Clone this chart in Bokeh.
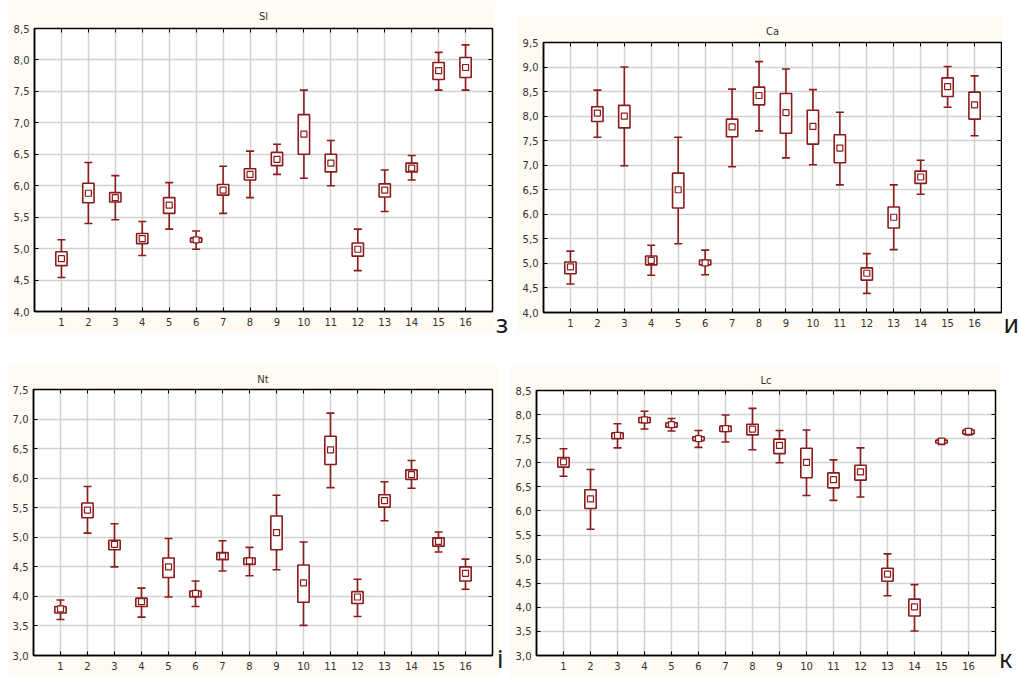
from bokeh.plotting import figure
from bokeh.models import (Range1d, FixedTicker, LinearAxis, Spacer, ColumnDataSource,
                          CustomJSTickFormatter, Div)
from bokeh.layouts import row, column
from bokeh.embed import file_html
from bokeh.resources import INLINE

# ---------------- data ----------------
groups = [1, 2, 3, 4, 5, 6, 7, 8, 9, 10, 11, 12, 13, 14, 15, 16]

sl_mean = [4.84, 5.88, 5.81, 5.16, 5.69, 5.14, 5.93, 6.18, 6.42, 6.82, 6.36, 4.99, 5.93, 6.28, 7.83, 7.88]
sl_box_lo = [4.73, 5.73, 5.74, 5.08, 5.56, 5.10, 5.85, 6.09, 6.32, 6.50, 6.22, 4.88, 5.82, 6.22, 7.69, 7.72]
sl_box_hi = [4.95, 6.04, 5.89, 5.24, 5.81, 5.17, 6.02, 6.27, 6.53, 7.13, 6.50, 5.09, 6.03, 6.36, 7.96, 8.04]
sl_wh_lo = [4.54, 5.40, 5.46, 4.89, 5.31, 4.99, 5.56, 5.81, 6.18, 6.12, 6.00, 4.65, 5.59, 6.09, 7.52, 7.52]
sl_wh_hi = [5.14, 6.37, 6.16, 5.43, 6.05, 5.28, 6.31, 6.55, 6.66, 7.52, 6.72, 5.31, 6.25, 6.48, 8.12, 8.24]

ca_mean = [4.93, 8.06, 8.00, 5.06, 6.50, 5.01, 7.78, 8.42, 8.07, 7.79, 7.35, 4.80, 5.94, 6.76, 8.60, 8.23]
ca_box_lo = [4.79, 7.89, 7.76, 4.97, 6.13, 4.97, 7.58, 8.23, 7.65, 7.43, 7.05, 4.66, 5.72, 6.63, 8.40, 7.94]
ca_box_hi = [5.03, 8.19, 8.22, 5.15, 6.84, 5.07, 7.94, 8.59, 8.46, 8.12, 7.62, 4.91, 6.15, 6.88, 8.78, 8.49]
ca_wh_lo = [4.58, 7.57, 6.99, 4.76, 5.40, 4.77, 6.97, 7.70, 7.15, 7.01, 6.60, 4.39, 5.28, 6.41, 8.18, 7.60]
ca_wh_hi = [5.25, 8.53, 9.00, 5.37, 7.57, 5.27, 8.55, 9.11, 8.96, 8.54, 8.08, 5.20, 6.60, 7.10, 9.01, 8.82]

nt_mean = [3.79, 5.46, 4.88, 3.91, 4.50, 4.05, 4.68, 4.60, 5.08, 4.23, 6.48, 3.99, 5.62, 6.06, 4.93, 4.39]
nt_box_lo = [3.72, 5.33, 4.79, 3.83, 4.32, 3.99, 4.62, 4.54, 4.79, 3.90, 6.23, 3.88, 5.51, 5.98, 4.85, 4.26]
nt_box_hi = [3.83, 5.58, 4.95, 3.97, 4.65, 4.09, 4.74, 4.65, 5.36, 4.53, 6.71, 4.08, 5.72, 6.14, 4.99, 4.50]
nt_wh_lo = [3.61, 5.07, 4.50, 3.65, 3.99, 3.83, 4.43, 4.35, 4.45, 3.51, 5.84, 3.66, 5.28, 5.83, 4.75, 4.12]
nt_wh_hi = [3.94, 5.86, 5.23, 4.14, 4.98, 4.26, 4.94, 4.83, 5.71, 4.92, 7.10, 4.29, 5.94, 6.30, 5.09, 4.63]

lc_mean = [7.02, 6.25, 7.57, 7.89, 7.79, 7.50, 7.71, 7.70, 7.36, 7.01, 6.65, 6.81, 4.69, 4.01, 7.45, 7.65]
lc_box_lo = [6.91, 6.05, 7.50, 7.83, 7.74, 7.46, 7.65, 7.58, 7.19, 6.69, 6.48, 6.64, 4.54, 3.82, 7.41, 7.60]
lc_box_hi = [7.11, 6.44, 7.62, 7.94, 7.83, 7.54, 7.76, 7.80, 7.49, 7.30, 6.79, 6.95, 4.81, 4.17, 7.47, 7.68]
lc_wh_lo = [6.72, 5.62, 7.31, 7.70, 7.66, 7.32, 7.43, 7.27, 7.00, 6.32, 6.22, 6.29, 4.24, 3.51, 7.38, 7.58]
lc_wh_hi = [7.29, 6.86, 7.81, 8.07, 7.92, 7.67, 7.99, 8.13, 7.67, 7.68, 7.06, 7.31, 5.11, 4.47, 7.49, 7.70]

sl_yticks = [4.0, 4.5, 5.0, 5.5, 6.0, 6.5, 7.0, 7.5, 8.0, 8.5]
sl_ylabels = ["4,0", "4,5", "5,0", "5,5", "6,0", "6,5", "7,0", "7,5", "8,0", "8,5"]
ca_yticks = [4.0, 4.5, 5.0, 5.5, 6.0, 6.5, 7.0, 7.5, 8.0, 8.5, 9.0, 9.5]
ca_ylabels = ["4,0", "4,5", "5,0", "5,5", "6,0", "6,5", "7,0", "7,5", "8,0", "8,5", "9,0", "9,5"]
nt_yticks = [3.0, 3.5, 4.0, 4.5, 5.0, 5.5, 6.0, 6.5, 7.0, 7.5]
nt_ylabels = ["3,0", "3,5", "4,0", "4,5", "5,0", "5,5", "6,0", "6,5", "7,0", "7,5"]
lc_yticks = [3.0, 3.5, 4.0, 4.5, 5.0, 5.5, 6.0, 6.5, 7.0, 7.5, 8.0, 8.5]
lc_ylabels = ["3,0", "3,5", "4,0", "4,5", "5,0", "5,5", "6,0", "6,5", "7,0", "7,5", "8,0", "8,5"]

RED = "#8B1C1C"
BG = "#FFFBF2"
GRID = "#D2D2D2"
TXT = "#333333"
FONT = "DejaVu Sans"


def make_panel(name, mean, blo, bhi, wlo, whi, yticks, ylabels, w, h, bl, br, bt, bb, tstand):
    src = ColumnDataSource(dict(x=groups, mean=mean, blo=blo, bhi=bhi, wlo=wlo, whi=whi))
    p = figure(width=w, height=h, x_range=Range1d(0, 17), y_range=Range1d(yticks[0], yticks[-1]),
               output_backend="svg", toolbar_location=None,
               min_border_left=bl, min_border_right=br, min_border_top=bt, min_border_bottom=bb,
               background_fill_color="white", border_fill_color=BG,
               outline_line_color="black", outline_line_width=1.5, title=name)
    p.title.align = "center"
    p.title.offset = -(bl - br) / 2
    p.title.text_font = FONT
    p.title.text_font_size = "10px"
    p.title.text_font_style = "normal"
    p.title.text_color = TXT
    p.title.standoff = tstand

    yfmt = CustomJSTickFormatter(args=dict(tv=yticks, lv=ylabels), code="""
        let out = '';
        for (let k = 0; k < tv.length; k++) {
            if (Math.abs(tv[k] - tick) < 1e-9) { out = lv[k]; }
        }
        return out;
    """)
    p.xaxis.ticker = FixedTicker(ticks=groups)
    p.yaxis.ticker = FixedTicker(ticks=yticks)
    p.yaxis.formatter = yfmt
    for ax in (p.xaxis[0], p.yaxis[0]):
        ax.axis_line_color = "black"
        ax.axis_line_width = 1.5
        ax.major_tick_in = 4
        ax.major_tick_out = 0
        ax.major_tick_line_color = "black"
        ax.minor_tick_line_color = None
        ax.major_label_text_font = FONT
        ax.major_label_text_font_size = "10px"
        ax.major_label_text_color = TXT
    p.xaxis.major_label_standoff = 6
    p.yaxis.major_label_standoff = 5

    for loc, tk in (("right", yticks), ("above", groups)):
        ax = LinearAxis(ticker=FixedTicker(ticks=tk),
                        formatter=CustomJSTickFormatter(code="return '';"),
                        major_label_text_font_size="0px", major_label_standoff=0,
                        major_tick_in=4, major_tick_out=0, minor_tick_line_color=None,
                        axis_line_color=None, major_tick_line_color="black")
        p.add_layout(ax, loc)

    p.grid.grid_line_color = GRID
    p.grid.grid_line_width = 1.5

    p.segment(x0="x", y0="wlo", x1="x", y1="whi", source=src, line_color=RED, line_width=1.6)
    p.scatter(x="x", y="whi", source=src, marker="dash", size=8, line_color=RED, line_width=1.6)
    p.scatter(x="x", y="wlo", source=src, marker="dash", size=8, line_color=RED, line_width=1.6)
    p.vbar(x="x", width=0.42, bottom="blo", top="bhi", source=src,
           fill_color="white", line_color=RED, line_width=1.6)
    p.scatter(x="x", y="mean", source=src, marker="square", size=6,
              fill_color="white", line_color=RED, line_width=1.2)
    return p


def letter_div(ch, w, h, top, left=None, right=None):
    pos = f"left:{left}px;" if left is not None else f"right:{right}px;"
    html = (f'<div style="position:absolute;{pos}top:{top}px;'
            f'font-family:\'Noto Sans\';font-size:25px;line-height:25px;'
            f'color:#1a1a1a;white-space:nowrap;">{ch}</div>')
    return Div(text=html, width=w, height=h,
               styles={"position": "relative", "overflow": "hidden",
                       "background-color": "white", "margin": "0", "padding": "0"})


p1 = make_panel("Sl", sl_mean, sl_box_lo, sl_box_hi, sl_wh_lo, sl_wh_hi, sl_yticks, sl_ylabels,
                487, 333, 26, 3, 28, 22, 14)
p2 = make_panel("Ca", ca_mean, ca_box_lo, ca_box_hi, ca_wh_lo, ca_wh_hi, ca_yticks, ca_ylabels,
                485, 316, 26, 1, 26, 20, 12)
p3 = make_panel("Nt", nt_mean, nt_box_lo, nt_box_hi, nt_wh_lo, nt_wh_hi, nt_yticks, nt_ylabels,
                490, 311, 25, 6, 24, 21, 10)
p4 = make_panel("Lc", lc_mean, lc_box_lo, lc_box_hi, lc_wh_lo, lc_wh_hi, lc_yticks, lc_ylabels,
                490, 310, 26, 5, 24, 21, 9)

L1 = letter_div("з", 22, 365, 311, left=1)
L2 = letter_div("и", 17, 365, 311, right=0)
L3 = letter_div("і", 12, 311, 281, left=-1)
L4 = letter_div("к", 19, 311, 281, left=-1)

row1 = row(Spacer(width=8, height=365),
           column(p1, Spacer(width=487, height=32)),
           L1,
           column(Spacer(width=485, height=16), p2, Spacer(width=485, height=33)),
           L2)
row2 = row(Spacer(width=8, height=311),
           p3,
           L3,
           column(Spacer(width=490, height=1), p4),
           L4)
layout = column(row1, row2)

open("out.html", "w").write(file_html(layout, INLINE))
